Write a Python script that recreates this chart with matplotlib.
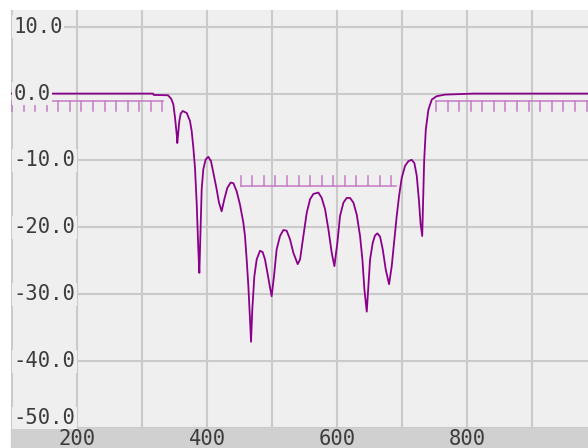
import matplotlib.pyplot as plt
from matplotlib.patches import Rectangle
from matplotlib.ticker import MultipleLocator
import numpy as np

plt.rcParams['axes.unicode_minus'] = False

# frequency response
freq = [98.5, 317, 318, 340, 345, 348.2, 350.8, 353.4, 354.3, 357.4, 359.5, 362.6,
        368.8, 373.8, 376.4, 379, 381.5, 384.2, 386.7, 388.2,
        391.8, 394.3, 397.9, 402, 406.1, 409.7, 414.8, 418.4, 422.5,
        426.6, 431.2, 436.4, 440.5, 445.6, 450.7, 455.9, 458.4, 461, 463.6, 466.1, 467.7,
        469.7, 472.8, 476.4, 481.5, 485.6, 489.2, 493.3, 496.9, 499.4,
        503, 507.1, 512.3, 517.4, 522.5, 527.7, 532.8, 539.5,
        543.1, 548.2, 553.4, 558.5, 563.6, 571.3, 576.4, 581.6, 586.7, 591.8, 595.9,
        600.5, 604.6, 609.8, 614.9, 620, 625.2, 630.3, 635.4, 639, 642.1, 645.7,
        648.2, 650.8, 654.9, 658.5, 662.1, 666.2, 670.3, 674.9, 680,
        684.1, 688.2, 691.8, 695.4, 699.5, 704.6, 709.8, 714.8, 719, 722.6, 726,
        728.5, 731, 734, 736.5, 740.5, 745.7, 753, 766, 810, 986]
gain = [0, 0, -0.2, -0.25, -0.8, -1.6, -3.6, -6.1, -7.4, -4.1, -3.0, -2.6,
        -2.9, -4.1, -5.6, -8.1, -11.1, -16.6, -23.5, -26.8,
        -14.3, -11.3, -9.85, -9.45, -10.1, -11.8, -14.3, -16.3, -17.6,
        -15.8, -14.1, -13.3, -13.4, -14.6, -16.6, -19.3, -21.3, -24.8, -28.8, -33.7, -37.1,
        -32.2, -27.3, -24.8, -23.5, -23.7, -24.8, -27.0, -29.0, -30.3,
        -27.3, -23.3, -21.3, -20.4, -20.5, -21.8, -23.8, -25.5,
        -24.8, -21.3, -17.8, -15.8, -15.0, -14.8, -15.6, -17.3, -20.3, -23.8, -25.8,
        -22.3, -18.3, -16.3, -15.6, -15.6, -16.3, -18.1, -21.3, -24.8, -29.3, -32.6,
        -28.8, -24.8, -22.3, -21.2, -20.9, -21.4, -23.3, -26.3, -28.5,
        -25.8, -21.8, -18.3, -15.3, -12.6, -10.8, -10.1, -9.9, -10.4, -12.3, -16.0,
        -19.5, -21.3, -10, -5.4, -2.4, -0.9, -0.4, -0.15, 0, 0]

# spec masks: start, end, level, tick direction
mask_start = [100, 451.8, 752.3]
mask_end = [332.3, 690, 986]
mask_level = [-1.15, -13.8, -1.15]
mask_dir = [-1, 1, -1]
mask_step = 17.8
mask_tick = 1.45

xticks = [200, 400, 600, 800]
yticks = [10, 0, -10, -20, -30, -40, -50]
ylabels = ['10.0', '0.0', '-10.0', '-20.0', '-30.0', '-40.0', '-50.0']

bg = '#efefef'
txt = '#3c3c3c'

fig = plt.figure(figsize=(5.88, 4.48), dpi=100)
ax = fig.add_axes([11/588, 20/448, 577/588, 418/448])
ax.set_facecolor(bg)
fig.patches.append(Rectangle((11/588, 0), 577/588, 20/448, transform=fig.transFigure,
                             color='#d0d0d0', zorder=-1))

for s, e, lv, d in zip(mask_start, mask_end, mask_level, mask_dir):
    ax.plot([s, e], [lv, lv], color='#c47ac4', lw=1.1, zorder=2)
    for t in np.arange(s, e + 0.1, mask_step):
        ax.plot([t, t], [lv, lv + d*mask_tick], color='#c47ac4', lw=1.1, zorder=2)

ax.plot(freq, gain, color='#8b008b', lw=1.3, zorder=2.2)

ax.set_xlim(98.5, 986)
ax.set_ylim(-50, 12.5)
ax.set_xticks(xticks)
ax.xaxis.set_minor_locator(MultipleLocator(100))
ax.set_yticks(yticks, labels=[''] * len(yticks))
ax.grid(True, which='both', color='#cacaca', lw=1.5)
ax.set_axisbelow(True)
for sp in ax.spines.values():
    sp.set_visible(False)

ax.tick_params(axis='both', which='both', length=0, labelcolor=txt, labelsize=14.8)
ax.tick_params(axis='x', pad=8)
for lab in ax.get_xticklabels():
    lab.set_fontfamily('DejaVu Sans Mono')
    lab.set_verticalalignment('center')

# y labels sit inside the plot, on top of the curve
for v, s in zip(yticks, ylabels):
    ax.text(2.5/577, v, s, transform=ax.get_yaxis_transform(), ha='left',
            va='bottom' if v == yticks[-1] else 'center',
            fontsize=14.8, family='DejaVu Sans Mono', color=txt, zorder=5,
            bbox=dict(facecolor=bg, edgecolor='none', pad=1))

fig.savefig('out.png', dpi=100)
